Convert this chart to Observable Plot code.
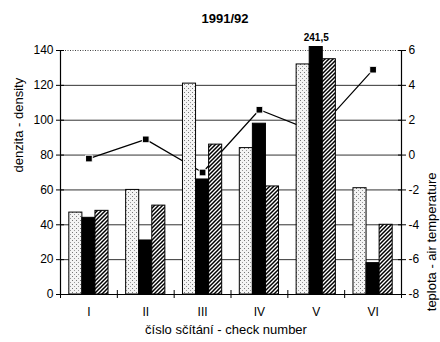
<!DOCTYPE html>
<html><head><meta charset="utf-8">
<script src="https://cdn.jsdelivr.net/npm/d3@7"></script>
<script src="https://cdn.jsdelivr.net/npm/@observablehq/plot@0.6"></script>
<style>html,body{margin:0;padding:0;background:#fff} svg{display:block}</style>
</head><body><div id="chart"></div>
<script>
const title = "1991/92";
const xTitle = "číslo sčítání - check number";
const yTitle = "denzita - density";
const y2Title = "teplota - air temperature";
const categories = ["I", "II", "III", "IV", "V", "VI"];
const dotted = [47, 60, 121, 84, 132, 61];
const black = [44, 31, 66, 98, 241.5, 18];
const hatched = [48, 51, 86, 62, 135, 40];
const temperature = [-0.2, 0.9, -1.0, 2.6, 1.3, 4.9];
const densityTicks = [0, 20, 40, 60, 80, 100, 120, 140];
const tempTicks = [-8, -6, -4, -2, 0, 2, 4, 6];
const overflowLabel = "241,5";

const yMax = densityTicks[densityTicks.length - 1];
const tMin = tempTicks[0], tMax = tempTicks[tempTicks.length - 1];
const toDensity = t => (t - tMin) / (tMax - tMin) * yMax;
const fromDensity = d => tMin + d / yMax * (tMax - tMin);

const groupWidth = 0.69;
const barWidth = groupWidth / 3;
const seriesList = [dotted, black, hatched];
const bars = [];
seriesList.forEach((vals, s) => vals.forEach((v, i) => {
  const x1 = i + 1 - groupWidth / 2 + s * barWidth;
  bars.push({cat: categories[i], s, value: v, x1, x2: x1 + barWidth, top: Math.min(v, yMax + 2)});
}));
const tempData = temperature.map((t, i) => ({cat: categories[i], pos: i + 1, t, y: toDensity(t)}));
const catPos = categories.map((c, i) => i + 1);
const bounds = d3.range(0.5, categories.length + 1, 1);
const overflow = bars.filter(d => d.value > yMax);

const defs = () => {
  const g = d3.create("svg:defs");
  const p1 = g.append("pattern").attr("id", "dots").attr("patternUnits", "userSpaceOnUse").attr("width", 4).attr("height", 4);
  p1.append("rect").attr("width", 4).attr("height", 4).attr("fill", "#f4f4f4");
  p1.append("rect").attr("x", 0).attr("y", 0).attr("width", 1).attr("height", 1).attr("fill", "#777");
  p1.append("rect").attr("x", 2).attr("y", 2).attr("width", 1).attr("height", 1).attr("fill", "#999");
  const p2 = g.append("pattern").attr("id", "hatch").attr("patternUnits", "userSpaceOnUse").attr("width", 4).attr("height", 4);
  p2.append("rect").attr("width", 4).attr("height", 4).attr("fill", "#fff");
  p2.append("path").attr("d", "M-1,1 l2,-2 M0,4 l4,-4 M3,5 l2,-2").attr("stroke", "#000").attr("stroke-width", 1.5);
  return g.node();
};

const font = "'Liberation Sans', Arial, Helvetica, sans-serif";
const chart = Plot.plot({
  width: 440,
  height: 342,
  marginLeft: 60,
  marginRight: 39,
  marginTop: 50,
  marginBottom: 48,
  style: {fontFamily: font, fontSize: "12px", color: "#000", background: "#fff"},
  x: {domain: [0.5, categories.length + 0.5], axis: null},
  y: {domain: [0, yMax], axis: null},
  marks: [
    defs,
    Plot.ruleY(densityTicks.filter(d => d > 0 && d < yMax), {stroke: "#333", strokeWidth: 1}),
    Plot.ruleY([yMax], {stroke: "#444", strokeDasharray: "1,1.5"}),
    Plot.line(tempData, {x: "pos", y: "y", stroke: "#000", strokeWidth: 1.2}),
    Plot.dot(tempData, {x: "pos", y: "y", symbol: "square", r: 3.8, fill: "#000", stroke: "#fff", strokeWidth: 1}),
    Plot.rectY(bars.filter(d => d.s === 0), {x1: "x1", x2: "x2", y1: 0, y2: "top", fill: "url(#dots)", stroke: "#000", strokeWidth: 1}),
    Plot.rectY(bars.filter(d => d.s === 1), {x1: "x1", x2: "x2", y1: 0, y2: "top", fill: "#000", stroke: "#000", strokeWidth: 1}),
    Plot.rectY(bars.filter(d => d.s === 2), {x1: "x1", x2: "x2", y1: 0, y2: "top", fill: "url(#hatch)", stroke: "#000", strokeWidth: 1}),
    Plot.text(overflow, {x: d => (d.x1 + d.x2) / 2, y: "top", text: () => overflowLabel, dy: -9, fontWeight: "bold", fontSize: 10}),
    Plot.ruleX([0.5, categories.length + 0.5], {stroke: "#000", strokeWidth: 1.2}),
    Plot.ruleY([0], {stroke: "#000", strokeWidth: 1.2}),
    Plot.axisY(densityTicks, {anchor: "left", tickSize: 8, dx: 4, tickPadding: 3, label: null, fontSize: 12}),
    Plot.axisY(densityTicks, {anchor: "right", tickSize: 8, dx: -4, tickPadding: 3, label: null, tickFormat: d => String(fromDensity(d)), fontSize: 12}),
    Plot.axisX(bounds, {anchor: "bottom", tickSize: 8, dy: -4, tickFormat: () => "", label: null}),
    Plot.axisX(catPos, {anchor: "bottom", tickSize: 0, tickPadding: 13, tickFormat: p => categories[p - 1], label: null, fontSize: 12}),
    Plot.text([title], {frameAnchor: "top", dx: -6, dy: -37, fontWeight: "bold", fontSize: 13}),
    Plot.text([xTitle], {frameAnchor: "bottom", dx: -5, dy: 39, fontSize: 13}),
    Plot.text([yTitle], {frameAnchor: "left", rotate: -90, dx: -42, fontSize: 13}),
    Plot.text([y2Title], {frameAnchor: "right", rotate: -90, dx: 30, fontSize: 13})
  ]
});
document.getElementById("chart").appendChild(chart);
</script>
</body></html>
